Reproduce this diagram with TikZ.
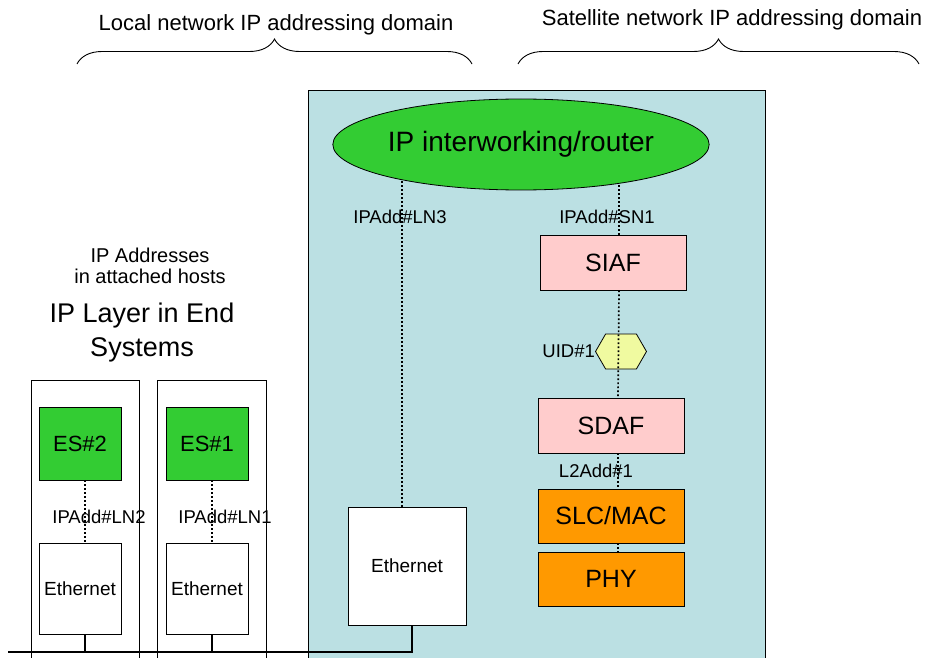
\documentclass[tikz,border=0pt]{standalone}
\usepackage{fontspec}
\setmainfont{Liberation Sans}
\usetikzlibrary{shapes.geometric,shapes.symbols,decorations.pathreplacing}

\definecolor{satblue}{RGB}{187,224,227}
\definecolor{esgreen}{RGB}{51,204,51}
\definecolor{afpink}{RGB}{255,204,204}
\definecolor{macorange}{RGB}{255,153,0}
\definecolor{uidyellow}{RGB}{240,250,160}

\tikzset{
	Box/.style={
		draw=black, line width=0.8pt, inner sep=0pt,
		minimum width=146, minimum height=55,
		font=\fontsize{25}{30}\selectfont
							}
}
\tikzset{
	ESBox/.style={
		Box, fill=esgreen, minimum width=82, minimum height=73,
		font=\fontsize{22}{26}\selectfont
							}
}
\tikzset{
	EthBox/.style={
		Box, fill=white, minimum width=82, minimum height=91,
		font=\fontsize{19}{23}\selectfont
							}
}
\tikzset{
	Host/.style={
		draw=black, line width=0.8pt, inner sep=0pt, anchor=north west,
		minimum height=300
							}
}
\tikzset{
	Hex/.style={
		draw=black, line width=0.8pt, fill=uidyellow, inner sep=0pt,
		shape=signal, signal to=east and west, signal pointer angle=120,
		minimum width=51, minimum height=35
							}
}
\tikzset{
	Router/.style={
		draw=black, line width=0.8pt, fill=esgreen, ellipse, inner sep=0pt,
		minimum width=366, minimum height=91,
		font=\fontsize{28}{32}\selectfont
							}
}
\tikzset{
	Addr/.style={inner sep=0pt, font=\fontsize{18.5}{22}\selectfont}
}
\tikzset{
	Dots/.style={black, line width=1.7pt, dash pattern=on 1.7pt off 2.3pt}
}
\tikzset{
	Bus/.style={black, line width=2pt}
}
\tikzset{
	Domain/.style={black, line width=0.9pt, decorate, decoration={brace, amplitude=25pt}}
}

\begin{document}
\begin{tikzpicture}[x=1pt,y=-1pt]
%Gitter
%\draw[step=50,very thin,black!20] (0,0) grid(929,658);
\useasboundingbox (0,0) rectangle (929,658);
\clip (0,0) rectangle (929,658);

%Domaenen
\node[inner sep=0pt,font=\fontsize{22}{26}\selectfont] (localtxt) at (276,25) {Local network IP addressing domain};
\node[inner sep=0pt,font=\fontsize{22}{26}\selectfont] (sattxt) at (732,20) {Satellite network IP addressing domain};
\draw[Domain] (77,64) -- (472,64);
\draw[Domain] (518,64) -- (919,64);

%Satellit
\node[draw=black,line width=0.8pt,fill=satblue,inner sep=0pt,anchor=north west,
	minimum width=457,minimum height=600] (satbox) at (308,90) {};
\node[EthBox,minimum width=118,minimum height=118] (eth3) at (407,566) {Ethernet};
\node[Box,fill=afpink] (siaf) at (613,262.5) {SIAF};
\node[Hex] (uid) at (621,351.5) {};
\node[Box,fill=afpink] (sdaf) at (611,425.5) {SDAF};
\node[Box,fill=macorange,minimum height=54] (slc) at (611,516) {SLC/MAC};
\node[Box,fill=macorange,minimum height=54] (phy) at (611,579) {PHY};

\coordinate (rc) at (521,144.5);
\draw[Dots] ([xshift=-5]eth3.north) -- ([xshift=-5]eth3.north |- rc);
\draw[Dots] ([xshift=6]siaf.north) -- ([xshift=6]siaf.north |- rc);
\node[Router] (router) at (rc) {IP interworking/router};

\draw[Dots] ([xshift=6]siaf.south) -- ([xshift=7]sdaf.north);
\draw[Dots] ([xshift=7]sdaf.south) -- ([xshift=7]slc.north);
\draw[Dots] ([xshift=7]slc.south) -- ([xshift=7]phy.north);

\node[Addr] (ln3) at (400,217) {IPAdd\#LN3};
\node[Addr] (sn1) at (607,217) {IPAdd\#SN1};
\node[Addr,anchor=east] (uidtxt) at (uid.west) {UID\#1};
\node[Addr] (l2add) at (596,471) {L2Add\#1};

%Endsysteme
\node[Host,minimum width=108] (host2) at (31,380) {};
\node[Host,minimum width=109] (host1) at (157,380) {};
\node[ESBox] (es2) at (80,443.5) {ES\#2};
\node[ESBox] (es1) at (207,443.5) {ES\#1};
\node[EthBox] (eth2) at (80,588.5) {Ethernet};
\node[EthBox] (eth1) at (207,588.5) {Ethernet};

\draw[Dots] ([xshift=5]es2.south) -- ([xshift=5]eth2.north);
\draw[Dots] ([xshift=5]es1.south) -- ([xshift=5]eth1.north);
\node[Addr] (ln2) at (99,517) {IPAdd\#LN2};
\node[Addr] (ln1) at (225,517) {IPAdd\#LN1};

\coordinate (busend) at (8,652);
\draw[Bus] ([xshift=5]eth3.south) |- (busend);
\draw[Bus] ([xshift=5]eth2.south) -- ([xshift=5]eth2.south |- busend);
\draw[Bus] ([xshift=5]eth1.south) -- ([xshift=5]eth1.south |- busend);

\node[align=center,font=\fontsize{20}{21}\selectfont] (hostaddr) at (150,266) {IP Addresses\\in attached hosts};
\node[align=center,font=\fontsize{27}{34}\selectfont] (iplayer) at (142,333) {IP Layer in End\\Systems};
\end{tikzpicture}
\end{document}
